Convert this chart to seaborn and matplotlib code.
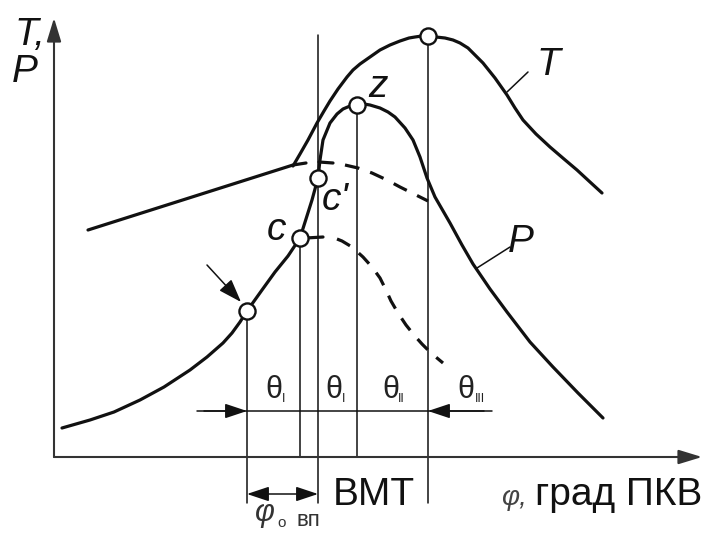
import matplotlib
matplotlib.use("Agg")
import matplotlib.pyplot as plt
import pandas as pd
import seaborn as sns

# Crank angle φ (horizontal) and T / P (vertical), origin at the axes corner
# Pressure P: compression -> ignition -> c -> c' -> z -> expansion
p_phi = [8, 36, 60, 86, 110, 136, 153, 169, 178, 186, 193, 208, 221, 234,
         246, 252, 258, 264, 266, 269, 276, 283, 289, 296, 303, 310, 316,
         326, 334, 341, 351, 359, 366, 373, 381, 396, 408, 419, 436, 453,
         476, 499, 524, 549]
p_val = [29, 37, 45, 57, 70, 87, 100, 114, 124, 135, 146, 167, 185, 201,
         219, 238, 257, 279, 297, 317, 334, 343, 348, 351, 353, 353, 352,
         349, 345, 340, 329, 317, 300, 279, 260, 234, 212, 193, 168, 145,
         115, 90, 64, 39]

# Temperature T: compression line with its end hook, then combustion/expansion
t_comp_phi = [34, 239, 252]
t_comp_val = [227, 292, 294]
t_phi = [239, 246, 254, 263, 270, 276, 284, 293, 299, 306, 316, 326, 336,
         346, 355, 361, 368, 374, 382, 391, 399, 406, 414, 421, 429, 441,
         453, 461, 469, 482, 496, 510, 523, 536, 548]
t_val = [291, 303, 317, 334, 346, 356, 368, 380, 387, 393, 400, 407, 412,
         416, 419, 420, 421, 421, 420, 419, 417, 414, 409, 402, 394, 379,
         362, 349, 337, 323, 310, 298, 287, 275, 264]

# Pressure without combustion, from c' (upper) and from c (lower)
up_tick_phi = [265, 279]
up_tick_val = [295, 294]
up_phi = [291, 304, 318, 333, 346, 360, 374]
up_val = [292, 289, 284, 277, 270, 263, 256]
lo_tick_phi = [252, 269]
lo_tick_val = [219, 220]
lo_phi = [283, 288, 298, 309, 318, 326, 332, 337, 344, 352, 360, 368, 377, 389]
lo_val = [218, 216, 210, 200, 190, 179, 167, 156, 144, 132, 122, 113, 104, 94]

# Marked points: ignition, c, c', z, T max
pt_names = ["ign", "c", "c'", "z", "Tmax"]
pt_phi = [193, 246, 264, 303, 374]
pt_val = [146, 219, 279, 352, 421]

sns.set_theme(style="white")
plt.rcParams["font.family"] = ["Liberation Sans", "DejaVu Sans"]

fig = plt.figure(figsize=(7.06, 5.34), dpi=100, facecolor="white")
ax = fig.add_axes([0, 0, 1, 1])
ax.set_xlim(-54, 652)
ax.set_ylim(-77, 457)
ax.axis("off")

ink = "#111111"
thick = 2.3
thin = 1.1

def arrow(tail, tip, style="-|>", lw=1.4, color=ink, hl=0.72, hw=0.22, ms=20):
    ax.annotate("", xy=tip, xytext=tail,
                arrowprops=dict(arrowstyle=f"{style},head_length={hl},head_width={hw}",
                                color=color, lw=lw, shrinkA=0, shrinkB=0,
                                mutation_scale=ms))

# coordinate axes with arrows
arrow((0, 0), (0, 439), lw=1.5, color="#333333")
arrow((0, 0), (648, 0), lw=1.5, color="#333333")

# vertical guide lines from the marked points
guide_bottom = [-46, 0, -46, 0, -46]
guide_top = list(pt_val)
guide_top[2] = 422  # the ВМТ line runs up past c'
for x, y0, y1 in zip(pt_phi, guide_bottom, guide_top):
    ax.plot([x, x], [y0, y1], color=ink, lw=thin, zorder=2)

# curves
line_kw = dict(sort=False, estimator=None, color=ink, lw=thick, ax=ax, zorder=3)
sns.lineplot(x=p_phi, y=p_val, **line_kw)
sns.lineplot(x=t_comp_phi, y=t_comp_val, **line_kw)
sns.lineplot(x=t_phi, y=t_val, **line_kw)
for xs, ys in [(up_tick_phi, up_tick_val), (lo_tick_phi, lo_tick_val)]:
    sns.lineplot(x=xs, y=ys, **line_kw)
for xs, ys in [(up_phi, up_val), (lo_phi, lo_val)]:
    sns.lineplot(x=xs, y=ys, linestyle=(0, (4.6, 3.6)), **line_kw)
for ln in ax.lines:
    ln.set_solid_joinstyle("round")
    ln.set_dash_joinstyle("round")

# marked points
pts = pd.DataFrame({"phi": pt_phi, "val": pt_val, "name": pt_names})
sns.scatterplot(data=pts, x="phi", y="val", s=135, color="white",
                edgecolor=ink, linewidth=1.7, ax=ax, zorder=5, legend=False)

# θ phase bar with arrows
ax.plot([143, 438], [46, 46], color=ink, lw=thin, zorder=2)
arrow((150, 46), (pt_phi[0], 46), lw=thin, hl=0.75, hw=0.25, ms=18)
arrow((430, 46), (pt_phi[4], 46), lw=thin, hl=0.75, hw=0.25, ms=18)

# ignition advance angle
arrow((pt_phi[0], -37), (pt_phi[2], -37), style="<|-|>", lw=thin,
      hl=0.75, hw=0.25, ms=18)

# ignition pointer
arrow((153, 192), (187, 155), lw=thin, hl=0.8, hw=0.28, ms=18)

# leader lines for curve names
ax.plot([453, 474], [365, 385], color=ink, lw=thin)
ax.plot([423, 456], [189, 210], color=ink, lw=thin)

# labels
big = 28
ax.text(-40, 412, "T,", fontsize=big, style="italic", va="baseline", color=ink)
ax.text(-42, 375, "P", fontsize=big, style="italic", va="baseline", color=ink)
ax.text(483, 382, "T", fontsize=big, style="italic", va="baseline", color=ink)
ax.text(454, 205, "P", fontsize=big, style="italic", va="baseline", color=ink)
ax.text(314, 360, "z", fontsize=big, style="italic", va="baseline", color=ink)
ax.text(213, 217, "c", fontsize=big, style="italic", va="baseline", color=ink)
ax.text(268, 247, "c'", fontsize=big, style="italic", va="baseline", color=ink)

ax.text(279, -48, "ВМТ", fontsize=big, va="baseline", color=ink)
ax.text(648, -48, "град ПКВ", fontsize=big, va="baseline", ha="right", color=ink)
ax.text(447, -48, "φ,", fontsize=20, style="italic", va="baseline", color="#444444")

theta_x = [211, 271, 328, 403]
sub_x = [228, 288, 344, 421]
subs = ["I", "I", "II", "III"]
for tx, sx, s in zip(theta_x, sub_x, subs):
    ax.text(tx, 59, "θ", fontsize=22, va="baseline", color="#222222")
    ax.text(sx, 55, s, fontsize=9, va="baseline", color="#222222")

ax.text(201, -64, "φ", fontsize=22, style="italic", va="baseline", color="#333333")
ax.text(223, -70, "о", fontsize=11, va="baseline", color="#333333")
ax.text(243, -69, "вп", fontsize=16, va="baseline", color="#333333")

fig.savefig("out.png", dpi=100, facecolor="white")
